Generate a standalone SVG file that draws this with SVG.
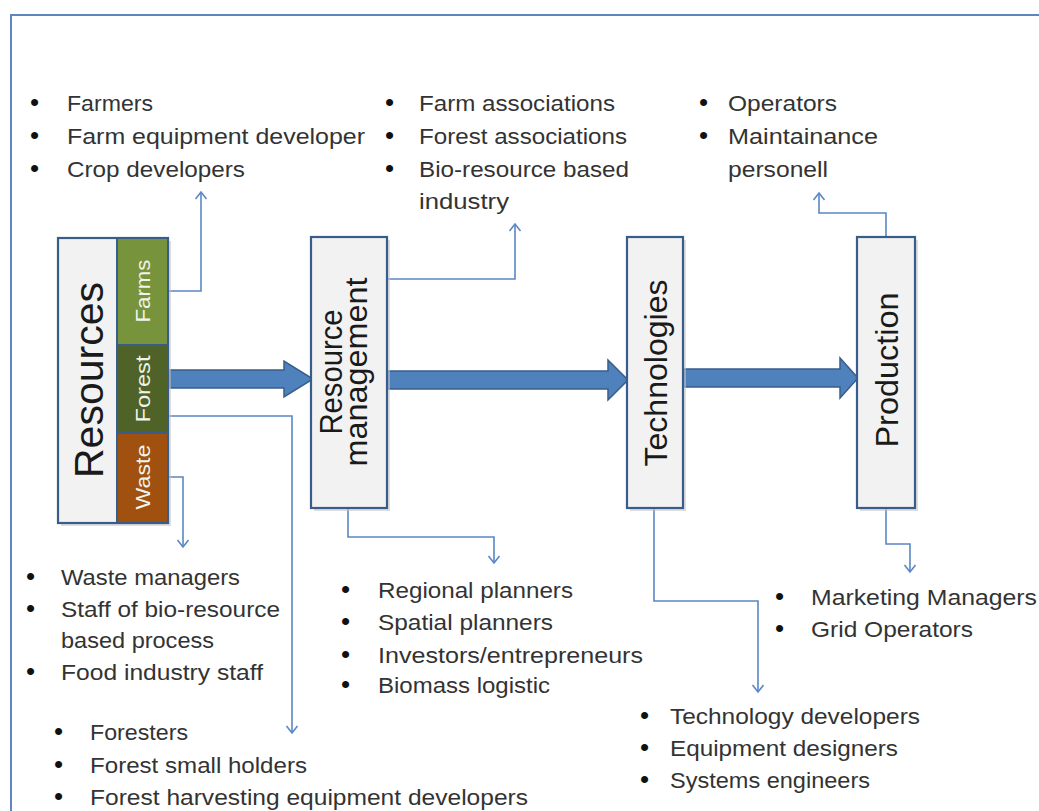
<svg xmlns="http://www.w3.org/2000/svg" width="1039" height="811" viewBox="0 0 1039 811">
<defs>
<style>
.frame{stroke:#5f86bd;stroke-width:2;fill:none}
.box{fill:#f2f2f2;stroke:#385d8a;stroke-width:2.2}
.shadow{fill:#c8c8c8;opacity:0.6}
.big{fill:#4f81bd;stroke:#385d8a;stroke-width:1.5}
.con{fill:none;stroke:#5b87c5;stroke-width:1.6;marker-end:url(#arr)}
.lbl{font-family:"Liberation Sans",Arial,sans-serif;font-size:32px;fill:#1a1a1a;text-anchor:middle}
.sub{font-family:"Liberation Sans",Arial,sans-serif;font-size:20px;fill:#f0f4e8;text-anchor:middle}
.t{font-family:"Liberation Sans",Arial,sans-serif;font-size:22px;fill:#333333}
.b{font-family:"Liberation Sans",Arial,sans-serif;font-size:26px;fill:#111}
</style>
<marker id="arr" viewBox="-9 -7 11 14" refX="0" refY="0" markerWidth="11" markerHeight="14" markerUnits="userSpaceOnUse" orient="auto">
<path d="M-7,-5.5 L0,0 L-7,5.5" fill="none" stroke="#5b87c5" stroke-width="1.6"/>
</marker>
</defs>
<rect width="1039" height="811" fill="#ffffff"/>
<path class="frame" d="M11,811 V15 H1039"/>

<g id="connectors">
<polygon class="big" points="170,370 284,370 284,361 313,379 284,397 284,388 170,388"/>
<polygon class="big" points="387,371 608,371 608,360 628,380 608,400 608,389 387,389"/>
<polygon class="big" points="683,369 840,369 840,358 858,378 840,398 840,387 683,387"/>
<path class="con" d="M168,291 H201 V192"/>
<path class="con" d="M168,416 H292 V733"/>
<path class="con" d="M168,477 H183 V547"/>
<path class="con" d="M387,279 H515 V224"/>
<path class="con" d="M348,508 V537 H494 V563"/>
<path class="con" d="M654,508 V601 H758 V692"/>
<path class="con" d="M886,237 V213 H819 V193"/>
<path class="con" d="M886,508 V544 H910 V572"/>
</g>

<g id="resources">
<rect class="shadow" x="61" y="241" width="110" height="285"/>
<rect class="box" x="58" y="238" width="110" height="285"/>
<text class="lbl" style="font-size:41px" transform="translate(103,380) rotate(-90)">Resources</text>
</g>
<g id="farms">
<rect x="117" y="238" width="51" height="107" fill="#77933c" stroke="#385d8a" stroke-width="2"/>
<text class="sub" transform="translate(150,291) rotate(-90)" textLength="63" lengthAdjust="spacingAndGlyphs">Farms</text>
</g>
<g id="forest">
<rect x="117" y="345" width="51" height="88" fill="#4f6228" stroke="#385d8a" stroke-width="2"/>
<text class="sub" transform="translate(150,389) rotate(-90)" textLength="67" lengthAdjust="spacingAndGlyphs">Forest</text>
</g>
<g id="waste">
<rect x="117" y="433" width="51" height="90" fill="#a0500f" stroke="#385d8a" stroke-width="2"/>
<text class="sub" transform="translate(150,477) rotate(-90)" textLength="65" lengthAdjust="spacingAndGlyphs">Waste</text>
</g>

<g id="resource-management">
<rect class="shadow" x="314" y="240" width="76" height="271"/>
<rect class="box" x="311" y="237" width="76" height="271"/>
<text class="lbl" transform="translate(342,372) rotate(-90)" textLength="125" lengthAdjust="spacingAndGlyphs">Resource</text>
<text class="lbl" transform="translate(367,372) rotate(-90)" textLength="189" lengthAdjust="spacingAndGlyphs">management</text>
</g>

<g id="technologies">
<rect class="shadow" x="630" y="240" width="56" height="271"/>
<rect class="box" x="627" y="237" width="56" height="271"/>
<text class="lbl" transform="translate(667,373) rotate(-90)" textLength="187" lengthAdjust="spacingAndGlyphs">Technologies</text>
</g>

<g id="production">
<rect class="shadow" x="860" y="240" width="58" height="271"/>
<rect class="box" x="857" y="237" width="58" height="271"/>
<text class="lbl" transform="translate(898,370) rotate(-90)" textLength="155" lengthAdjust="spacingAndGlyphs">Production</text>
</g>

<g id="list-farms">
<text class="b" x="30" y="111">•</text><text class="t" x="67" y="111" textLength="86" lengthAdjust="spacingAndGlyphs">Farmers</text>
<text class="b" x="30" y="144">•</text><text class="t" x="67" y="144" textLength="298" lengthAdjust="spacingAndGlyphs">Farm equipment developer</text>
<text class="b" x="30" y="177">•</text><text class="t" x="67" y="177" textLength="178" lengthAdjust="spacingAndGlyphs">Crop developers</text>
</g>
<g id="list-rm-top">
<text class="b" x="385" y="111">•</text><text class="t" x="419" y="111" textLength="196" lengthAdjust="spacingAndGlyphs">Farm associations</text>
<text class="b" x="385" y="144">•</text><text class="t" x="419" y="144" textLength="208" lengthAdjust="spacingAndGlyphs">Forest associations</text>
<text class="b" x="385" y="177">•</text><text class="t" x="419" y="177" textLength="210" lengthAdjust="spacingAndGlyphs">Bio-resource based</text>
<text class="t" x="419" y="209" textLength="90" lengthAdjust="spacingAndGlyphs">industry</text>
</g>
<g id="list-production-top">
<text class="b" x="699" y="111">•</text><text class="t" x="728" y="111" textLength="109" lengthAdjust="spacingAndGlyphs">Operators</text>
<text class="b" x="699" y="144">•</text><text class="t" x="728" y="144" textLength="150" lengthAdjust="spacingAndGlyphs">Maintainance</text>
<text class="t" x="728" y="177" textLength="100" lengthAdjust="spacingAndGlyphs">personell</text>
</g>
<g id="list-waste">
<text class="b" x="26" y="585">•</text><text class="t" x="61" y="585" textLength="179" lengthAdjust="spacingAndGlyphs">Waste managers</text>
<text class="b" x="26" y="617">•</text><text class="t" x="61" y="617" textLength="219" lengthAdjust="spacingAndGlyphs">Staff of bio-resource</text>
<text class="t" x="61" y="648" textLength="153" lengthAdjust="spacingAndGlyphs">based process</text>
<text class="b" x="26" y="680">•</text><text class="t" x="61" y="680" textLength="202" lengthAdjust="spacingAndGlyphs">Food industry staff</text>
</g>
<g id="list-forest">
<text class="b" x="54" y="740">•</text><text class="t" x="90" y="740" textLength="98" lengthAdjust="spacingAndGlyphs">Foresters</text>
<text class="b" x="54" y="773">•</text><text class="t" x="90" y="773" textLength="217" lengthAdjust="spacingAndGlyphs">Forest small holders</text>
<text class="b" x="54" y="805">•</text><text class="t" x="90" y="805" textLength="438" lengthAdjust="spacingAndGlyphs">Forest harvesting equipment developers</text>
</g>
<g id="list-rm-bottom">
<text class="b" x="341" y="598">•</text><text class="t" x="378" y="598" textLength="195" lengthAdjust="spacingAndGlyphs">Regional planners</text>
<text class="b" x="341" y="630">•</text><text class="t" x="378" y="630" textLength="175" lengthAdjust="spacingAndGlyphs">Spatial planners</text>
<text class="b" x="341" y="663">•</text><text class="t" x="378" y="663" textLength="265" lengthAdjust="spacingAndGlyphs">Investors/entrepreneurs</text>
<text class="b" x="341" y="693">•</text><text class="t" x="378" y="693" textLength="172" lengthAdjust="spacingAndGlyphs">Biomass logistic</text>
</g>
<g id="list-production-bottom">
<text class="b" x="775" y="605">•</text><text class="t" x="811" y="605" textLength="226" lengthAdjust="spacingAndGlyphs">Marketing Managers</text>
<text class="b" x="775" y="637">•</text><text class="t" x="811" y="637" textLength="162" lengthAdjust="spacingAndGlyphs">Grid Operators</text>
</g>
<g id="list-technologies">
<text class="b" x="640" y="724">•</text><text class="t" x="670" y="724" textLength="250" lengthAdjust="spacingAndGlyphs">Technology developers</text>
<text class="b" x="640" y="756">•</text><text class="t" x="670" y="756" textLength="228" lengthAdjust="spacingAndGlyphs">Equipment designers</text>
<text class="b" x="640" y="788">•</text><text class="t" x="670" y="788" textLength="200" lengthAdjust="spacingAndGlyphs">Systems engineers</text>
</g>
</svg>
